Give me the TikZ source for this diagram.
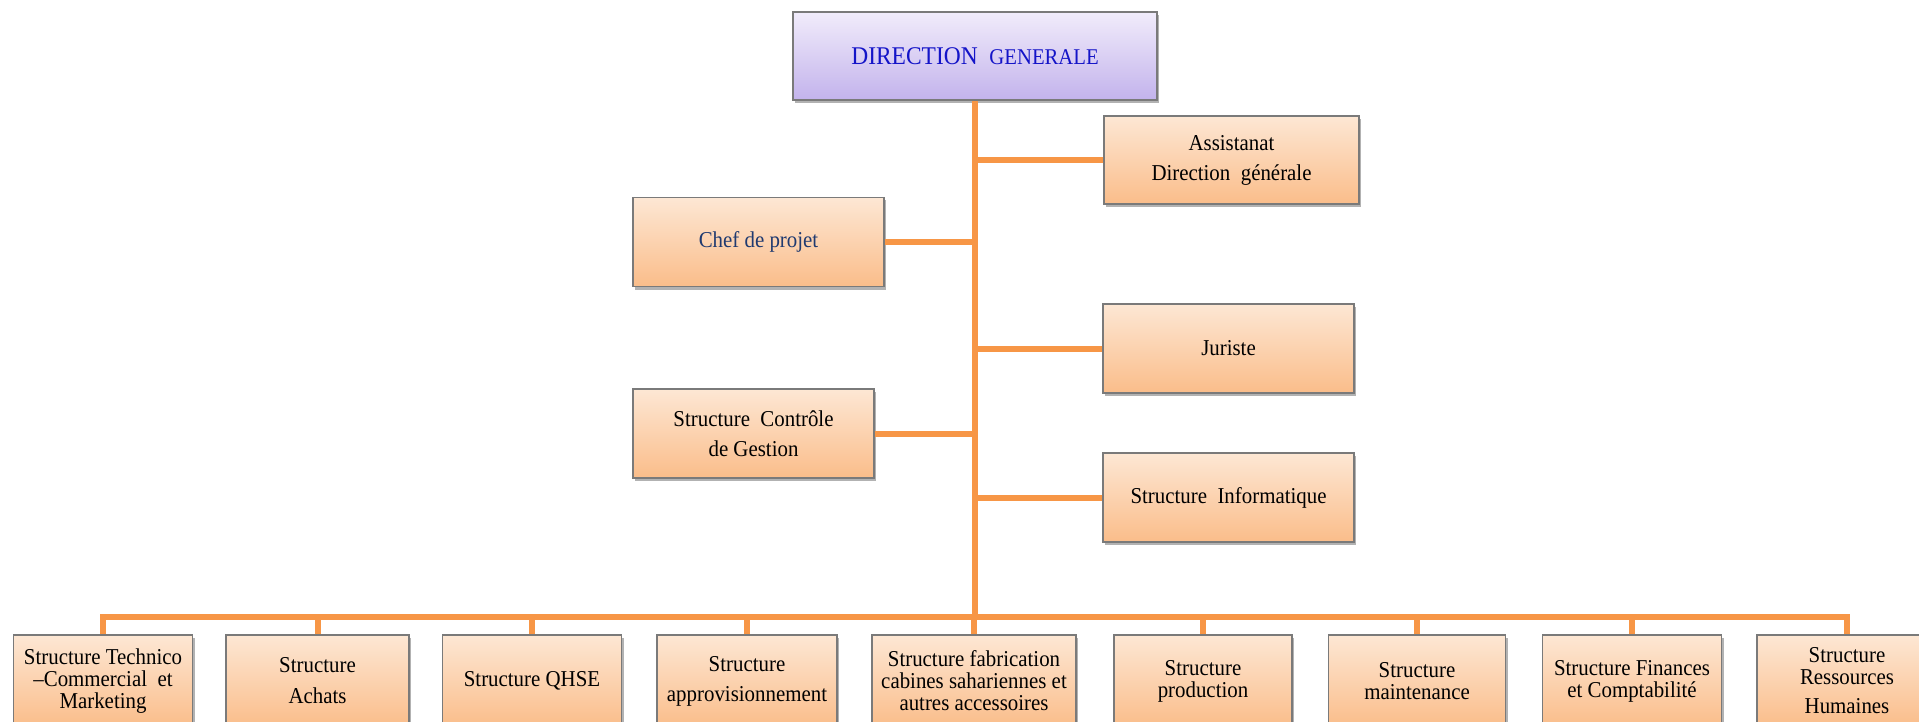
\documentclass[tikz,border=0pt]{standalone}
\usepackage{fontspec}
\setmainfont{Liberation Serif}[FakeStretch=0.92]
\usetikzlibrary{shadows}
\definecolor{conn}{HTML}{F79646}
\definecolor{otop}{HTML}{FDE7D4}
\definecolor{obot}{HTML}{FABD8A}
\definecolor{ltop}{HTML}{F1ECFB}
\definecolor{lbot}{HTML}{C3B3EC}
\definecolor{boxedge}{HTML}{7A7A7A}
\definecolor{dgblue}{HTML}{1414C8}
\definecolor{navy}{HTML}{1F3A70}
\tikzset{
  basebox/.style={rectangle, draw=boxedge, line width=1.3pt, inner sep=0pt, align=center,
    drop shadow={shadow xshift=2pt, shadow yshift=-3pt, fill=black, opacity=0.3}},
  obox/.style={basebox, top color=otop, bottom color=obot},
  lbox/.style={basebox, top color=ltop, bottom color=lbot},
  sidebox/.style={obox, minimum width=251pt, minimum height=89pt, font=\fontsize{22.7}{30}\selectfont},
  lowbox/.style={obox, minimum height=92pt, minimum width=179pt, font=\fontsize{22.7}{22}\selectfont},
  link/.style={draw=conn, line width=6pt},
}
\begin{document}
\begin{tikzpicture}[x=1pt,y=-1pt]
\useasboundingbox (0,0) rectangle (1919,722);
\fill[white] (0,0) rectangle (1919,722);
\clip (0,0) rectangle (1919,722);

% top
\node[lbox, minimum width=364pt, minimum height=88pt] (dg) at (975,56)
  {\color{dgblue}\fontsize{25.5}{30}\selectfont DIRECTION\ \ \fontsize{22.5}{30}\selectfont GENERALE};

% side boxes
\node[sidebox, minimum width=255pt, minimum height=88pt] (assist) at (1231.5,160) {Assistanat\\Direction\ \ générale};
\node[sidebox] (chef) at (758.5,242) {\color{navy}Chef de projet};
\node[sidebox] (juriste) at (1228.5,348.5) {Juriste};
\node[sidebox, minimum width=241pt] (ctrl) at (753.5,433.5) {Structure\ \ Contrôle\\de Gestion};
\node[sidebox] (info) at (1228.5,497.5) {Structure\ \ Informatique};

% bottom boxes
\node[lowbox] (b1) at (103,681) {Structure Technico\\–Commercial\ \ et\\Marketing};
\node[lowbox, minimum width=183pt] (b2) at (317.5,681) {Structure\\[9pt]Achats};
\node[lowbox] (b3) at (532,681) {Structure QHSE};
\node[lowbox, minimum width=180pt] (b4) at (747,681) {Structure\\[8pt]approvisionnement};
\node[lowbox, minimum width=204pt] (b5) at (974,681) {Structure fabrication\\cabines sahariennes et\\autres accessoires};
\node[lowbox, minimum width=178pt] (b6) at (1203,681) {Structure\\production};
\node[lowbox, minimum width=177pt] (b7) at (1417,681) {Structure\\maintenance};
\node[lowbox] (b8) at (1632,681) {Structure Finances\\et Comptabilité};
\node[lowbox, minimum width=180pt] (b9) at (1847,681) {Structure\\Ressources\\[7pt]Humaines};

% connectors
\coordinate (busc) at (975,617);
\draw[link] (dg.south) -- (busc);
\draw[link] (assist.west) -- (assist.west -| dg.south);
\draw[link] (chef.east) -- (chef.east -| dg.south);
\draw[link] (juriste.west) -- (juriste.west -| dg.south);
\draw[link] (ctrl.east) -- (ctrl.east -| dg.south);
\draw[link] (info.west) -- (info.west -| dg.south);
\draw[link] (b1.north) -- (b1.north |- busc) -- (b9.north |- busc) -- (b9.north);
\foreach \b in {b2,b3,b4,b5,b6,b7,b8}
  \draw[link] (\b.north) -- (\b.north |- busc);
\end{tikzpicture}
\end{document}
